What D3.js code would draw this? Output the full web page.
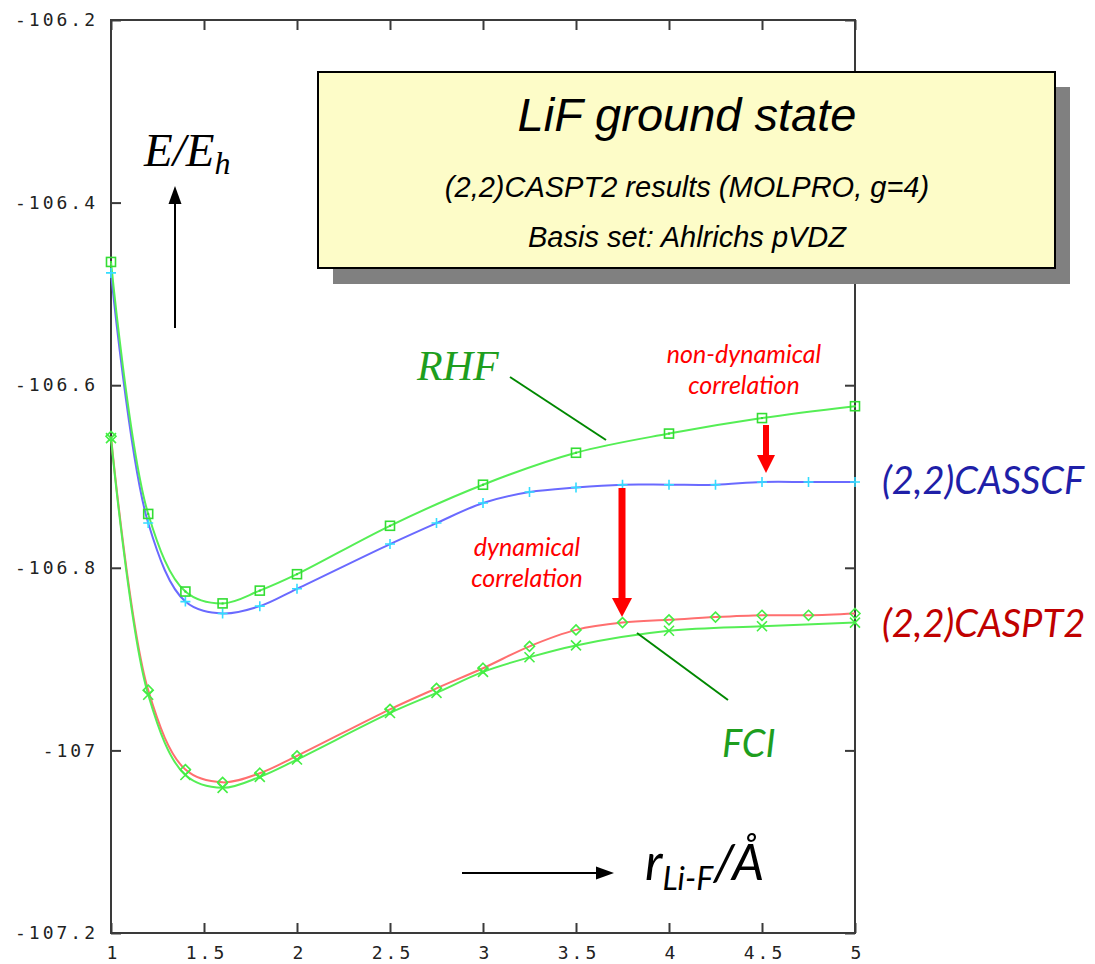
<!DOCTYPE html>
<html>
<head>
<meta charset="utf-8">
<script src="https://cdn.jsdelivr.net/npm/d3@7"></script>
<style>
  html, body { margin: 0; padding: 0; background: #fff; }
  svg { display: block; }
</style>
</head>
<body>
<svg id="chart" width="1095" height="964"></svg>
<script>
// ---- data ----
const xTicks = [1, 1.5, 2, 2.5, 3, 3.5, 4, 4.5, 5];
const yTicks = [-106.2, -106.4, -106.6, -106.8, -107, -107.2];

const rhfR = [1.0, 1.2, 1.4, 1.6, 1.8, 2.0, 2.5, 3.0, 3.5, 4.0, 4.5, 5.0];
const rhfE = [-106.465, -106.741, -106.826, -106.839, -106.825, -106.807, -106.754, -106.709, -106.674, -106.653, -106.636, -106.623];

const casscfR = [1.0, 1.2, 1.4, 1.6, 1.8, 2.0, 2.5, 2.75, 3.0, 3.25, 3.5, 3.75, 4.0, 4.25, 4.5, 4.75, 5.0];
const casscfE = [-106.477, -106.751, -106.837, -106.850, -106.842, -106.823, -106.774, -106.751, -106.729, -106.717, -106.712, -106.709, -106.709, -106.709, -106.706, -106.706, -106.706];

const caspt2R = [1.0, 1.2, 1.4, 1.6, 1.8, 2.0, 2.5, 2.75, 3.0, 3.25, 3.5, 3.75, 4.0, 4.25, 4.5, 4.75, 5.0];
const caspt2E = [-106.656, -106.934, -107.021, -107.035, -107.025, -107.006, -106.955, -106.932, -106.910, -106.886, -106.868, -106.860, -106.857, -106.854, -106.852, -106.852, -106.850];

const fciR = [1.0, 1.2, 1.4, 1.6, 1.8, 2.0, 2.5, 2.75, 3.0, 3.25, 3.5, 4.0, 4.5, 5.0];
const fciE = [-106.658, -106.939, -107.027, -107.041, -107.029, -107.010, -106.959, -106.937, -106.914, -106.898, -106.885, -106.869, -106.864, -106.860];

// ---- layout ----
const svg = d3.select("#chart");
const L = 111, R = 855, T = 20, B = 933;
const x = d3.scaleLinear().domain([1, 5]).range([L, R]);
const y = d3.scaleLinear().domain([-107.2, -106.2]).range([B, T]);

const frameColor = "#3a3a3a";
const tickFont = "'DejaVu Sans Mono', monospace";
const fmt = d => String(+d.toFixed(1));

function styleAxis(g, showLabels) {
  g.select(".domain").remove();
  g.selectAll(".tick line").attr("stroke", frameColor).attr("stroke-width", 2);
  g.selectAll(".tick text")
    .attr("fill", "#222")
    .style("font-family", tickFont)
    .style("font-size", "18px")
    .style("letter-spacing", "3px");
  if (!showLabels) g.selectAll(".tick text").remove();
}

svg.append("g").attr("transform", `translate(${L},0)`)
  .call(d3.axisLeft(y).tickValues(yTicks).tickSizeInner(-10).tickSizeOuter(0).tickPadding(13).tickFormat(fmt))
  .call(g => styleAxis(g, true));
svg.append("g").attr("transform", `translate(${R},0)`)
  .call(d3.axisRight(y).tickValues(yTicks).tickSizeInner(-10).tickSizeOuter(0).tickFormat(""))
  .call(g => styleAxis(g, false));
svg.append("g").attr("transform", `translate(0,${B})`)
  .call(d3.axisBottom(x).tickValues(xTicks).tickSizeInner(-10).tickSizeOuter(0).tickPadding(13).tickFormat(fmt))
  .call(g => styleAxis(g, true))
  .call(g => g.selectAll(".tick text").attr("dx", "2px"));
svg.append("g").attr("transform", `translate(0,${T})`)
  .call(d3.axisTop(x).tickValues(xTicks).tickSizeInner(-10).tickSizeOuter(0).tickFormat(""))
  .call(g => styleAxis(g, false));

svg.append("rect").attr("x", L).attr("y", T).attr("width", R - L).attr("height", B - T)
  .attr("fill", "none").attr("stroke", frameColor).attr("stroke-width", 2);

// ---- curves ----
const line = d3.line().x(d => x(d[0])).y(d => y(d[1])).curve(d3.curveCatmullRom.alpha(0.5));
const zip = (a, b) => a.map((v, i) => [v, b[i]]);

const series = [
  { name: "CASSCF", pts: zip(casscfR, casscfE), line: "#6a6aff", mark: "plus", mcol: "#33ddff" },
  { name: "RHF", pts: zip(rhfR, rhfE), line: "#55ee55", mark: "square", mcol: "#33dd33" },
  { name: "CASPT2", pts: zip(caspt2R, caspt2E), line: "#ff6f6f", mark: "diamond", mcol: "#44ee44" },
  { name: "FCI", pts: zip(fciR, fciE), line: "#55ee55", mark: "cross", mcol: "#44ee44" }
];

series.forEach(s => {
  svg.append("path").datum(s.pts).attr("d", line)
    .attr("fill", "none").attr("stroke", s.line).attr("stroke-width", 2);
});
series.forEach(s => {
  const g = svg.append("g").attr("fill", "none").attr("stroke", s.mcol).attr("stroke-width", 1.6);
  s.pts.forEach(p => {
    const cx = x(p[0]), cy = y(p[1]);
    if (s.mark === "square") {
      g.append("rect").attr("x", cx - 4.5).attr("y", cy - 4.5).attr("width", 9).attr("height", 9);
      g.append("rect").attr("x", cx - 1).attr("y", cy - 1).attr("width", 2).attr("height", 2).attr("fill", s.mcol).attr("stroke", "none");
    } else if (s.mark === "plus") {
      g.append("path").attr("d", `M${cx - 5},${cy}H${cx + 5}M${cx},${cy - 5}V${cy + 5}`);
    } else if (s.mark === "diamond") {
      g.append("path").attr("d", `M${cx},${cy - 5}L${cx + 5},${cy}L${cx},${cy + 5}L${cx - 5},${cy}Z`);
    } else {
      g.append("path").attr("d", `M${cx - 5},${cy - 5}L${cx + 5},${cy + 5}M${cx + 5},${cy - 5}L${cx - 5},${cy + 5}`);
    }
  });
});

// ---- title box ----
svg.append("rect").attr("x", 333).attr("y", 87).attr("width", 737).attr("height", 197).attr("fill", "#808080");
svg.append("rect").attr("x", 318).attr("y", 72).attr("width", 737).attr("height", 196)
  .attr("fill", "#fdfcc8").attr("stroke", "#000").attr("stroke-width", 2);
const boxFont = "'Liberation Sans', Arial, sans-serif";
svg.append("text").attr("x", 687).attr("y", 131).attr("text-anchor", "middle")
  .style("font-family", boxFont).style("font-style", "italic").style("font-size", "47px")
  .text("LiF ground state");
svg.append("text").attr("x", 687).attr("y", 197).attr("text-anchor", "middle")
  .style("font-family", boxFont).style("font-style", "italic").style("font-size", "29px")
  .text("(2,2)CASPT2 results (MOLPRO, g=4)");
svg.append("text").attr("x", 687).attr("y", 247).attr("text-anchor", "middle")
  .style("font-family", boxFont).style("font-style", "italic").style("font-size", "29px")
  .text("Basis set: Ahlrichs pVDZ");

// ---- annotations ----
const serif = "'Liberation Serif', 'Times New Roman', serif";
const sans = "Lato, 'Open Sans', sans-serif";

// E/Eh axis label + arrow
const eLab = svg.append("text").attr("x", 144).attr("y", 166)
  .style("font-family", serif).style("font-style", "italic").style("font-size", "47px").attr("fill", "#000");
eLab.append("tspan").text("E/E");
eLab.append("tspan").attr("dy", 8).style("font-size", "32px").text("h");
svg.append("line").attr("x1", 175).attr("y1", 328).attr("x2", 175).attr("y2", 200)
  .attr("stroke", "#000").attr("stroke-width", 2);
svg.append("path").attr("d", "M175,186L181.5,204L168.5,204Z").attr("fill", "#000");

// r axis label + arrow
svg.append("line").attr("x1", 462).attr("y1", 873).attr("x2", 598).attr("y2", 873)
  .attr("stroke", "#000").attr("stroke-width", 2);
svg.append("path").attr("d", "M614,873L596,866.5L596,879.5Z").attr("fill", "#000");
const rLab = svg.append("text").attr("x", 645).attr("y", 880)
  .style("font-family", sans).style("font-style", "italic").style("font-size", "51px").attr("fill", "#000");
rLab.append("tspan").text("r");
rLab.append("tspan").attr("dy", 10).style("font-size", "32px").text("Li-F");
rLab.append("tspan").attr("dy", -10).text("/Å");

// RHF label and pointer
svg.append("text").attr("x", 417).attr("y", 380)
  .style("font-family", serif).style("font-style", "italic").style("font-size", "42px")
  .attr("fill", "#1e9e1e").text("RHF");
svg.append("line").attr("x1", 510).attr("y1", 377).attr("x2", 606).attr("y2", 440)
  .attr("stroke", "#008800").attr("stroke-width", 2);

// FCI label and pointer
svg.append("text").attr("x", 722).attr("y", 757)
  .style("font-family", sans).style("font-style", "italic").style("font-size", "38px")
  .attr("fill", "#1e9e1e").text("FCI");
svg.append("line").attr("x1", 637).attr("y1", 633).attr("x2", 728).attr("y2", 700)
  .attr("stroke", "#008800").attr("stroke-width", 2);

// series labels on the right
svg.append("text").attr("x", 882).attr("y", 494)
  .style("font-family", sans).style("font-style", "italic").style("font-size", "38px")
  .attr("fill", "#1f1fa8").text("(2,2)CASSCF");
svg.append("text").attr("x", 882).attr("y", 637)
  .style("font-family", sans).style("font-style", "italic").style("font-size", "38px")
  .attr("fill", "#c00000").text("(2,2)CASPT2");

// correlation annotations
function redText(cx, lines, y0) {
  lines.forEach((t, i) => {
    svg.append("text").attr("x", cx).attr("y", y0 + i * 31).attr("text-anchor", "middle")
      .style("font-family", sans).style("font-style", "italic").style("font-size", "25px")
      .attr("fill", "#ff0000").text(t);
  });
}
redText(744, ["non-dynamical", "correlation"], 363);
redText(527, ["dynamical", "correlation"], 556);

function redArrow(ax, y1, y2, w, hw, hl) {
  svg.append("line").attr("x1", ax).attr("y1", y1).attr("x2", ax).attr("y2", y2 - hl + 1)
    .attr("stroke", "#ff0000").attr("stroke-width", w);
  svg.append("path").attr("d", `M${ax},${y2}L${ax + hw},${y2 - hl}L${ax - hw},${y2 - hl}Z`).attr("fill", "#ff0000");
}
redArrow(766, 425, 473, 6, 9, 18);
redArrow(622, 488, 617, 7, 10, 19);
</script>
</body>
</html>
